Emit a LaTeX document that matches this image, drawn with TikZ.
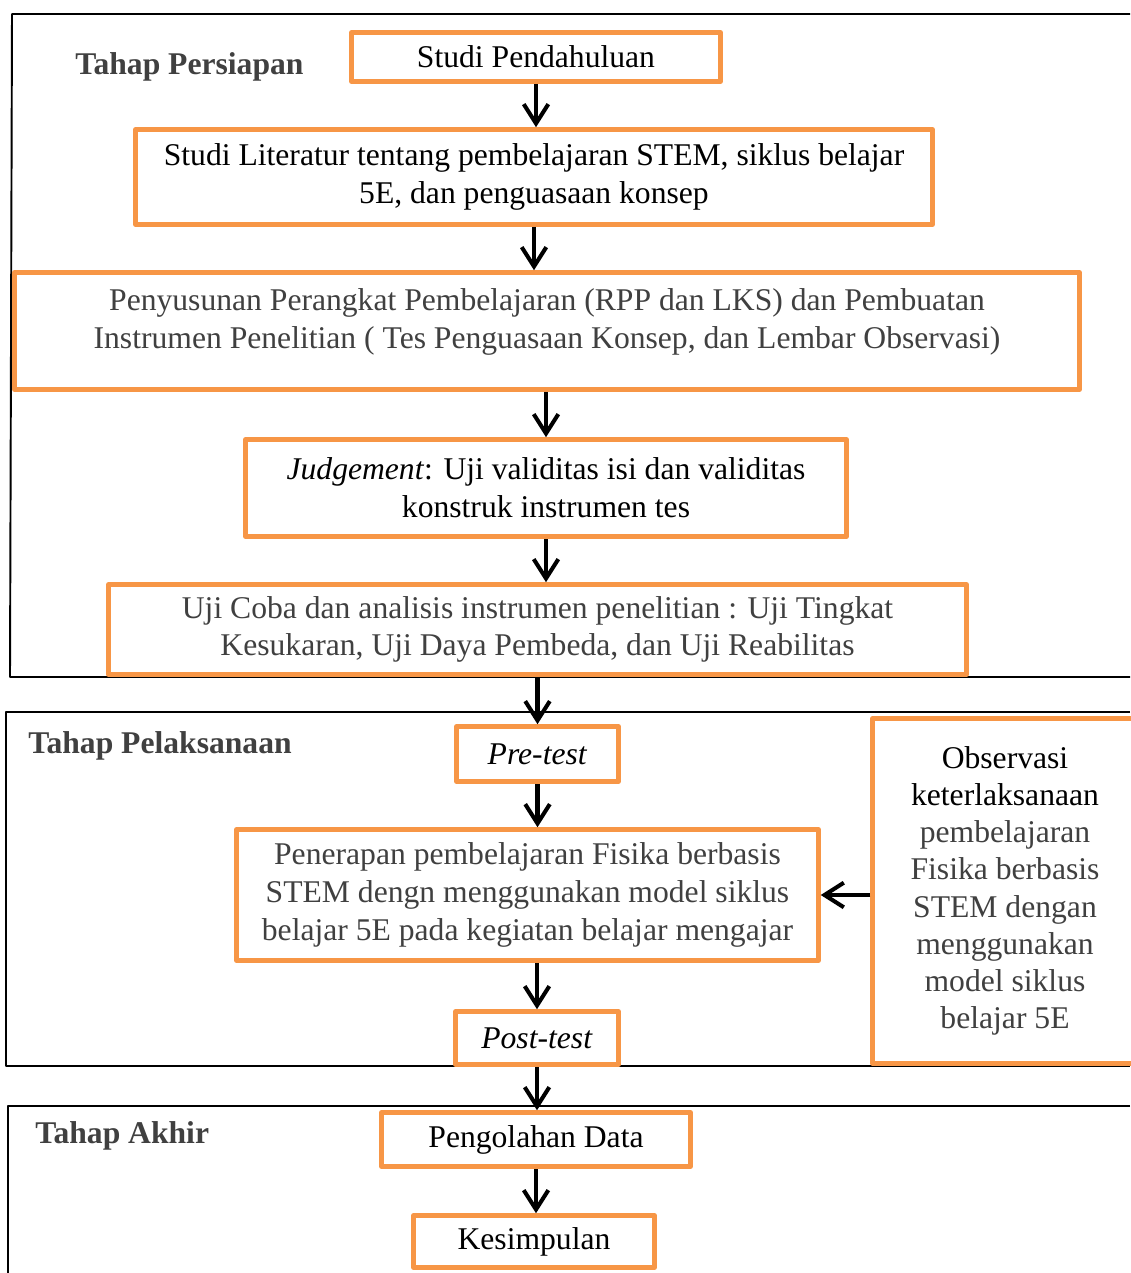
\documentclass[tikz,border=0pt]{standalone}
\usepackage{fontspec}
\setmainfont{Liberation Serif}
\usetikzlibrary{arrows.meta}
\definecolor{oren}{RGB}{247,150,70}
\definecolor{abu}{RGB}{64,64,64}
\begin{document}
\begin{tikzpicture}[x=0.02cm,y=-0.02cm,line join=round,
			every node/.style={font=\fontsize{18}{21.5}\selectfont,align=center,inner sep=0pt},
			box/.style={draw=oren,line width=2.6pt,fill=white},
			frame/.style={draw=black,line width=1.1pt},
			tahap/.style={font=\fontsize{18}{21.5}\selectfont\bfseries,text=abu,anchor=west},
			arr/.style={line width=2.3pt,-{Straight Barb[length=11pt,width=14pt]}}]
			\useasboundingbox (0,0) rectangle (1130,1273);
			%%Bingkai tahap
			\draw[frame] (1130,14) -- (12,14) -- (10,677) -- (1130,677);
			\draw[frame] (1130,712) -- (6,712) -- (6,1066) -- (1130,1066);
			\draw[frame] (1130,1106) -- (8,1106) -- (8,1273);
			%%Label tahap
			\node[tahap] (tp) at (75,67) {Tahap Persiapan};
			\node[tahap] (tl) at (28,746) {Tahap Pelaksanaan};
			\node[tahap] (ta) at (35,1136) {Tahap Akhir};
			%%Tahap persiapan
			\node[box,minimum width=7.38cm,minimum height=0.98cm] (s1) at (536,57) {Studi Pendahuluan};
			\node[box,minimum width=15.94cm,minimum height=1.9cm] (s2) at (534,177) {Studi Literatur tentang pembelajaran STEM, siklus belajar\\5E, dan penguasaan konsep};
			\node[box,minimum width=21.3cm,minimum height=2.34cm,text=abu] (s3) at (547,331) {Penyusunan Perangkat Pembelajaran (RPP dan LKS) dan Pembuatan\\Instrumen Penelitian ( Tes Penguasaan Konsep, dan Lembar Observasi)\\[-7pt]\mbox{}};
			\node[box,minimum width=12.02cm,minimum height=1.94cm] (s4) at (546,488) {\textit{Judgement}: Uji validitas isi dan validitas\\konstruk instrumen tes};
			\node[box,minimum width=17.16cm,minimum height=1.8cm,text=abu] (s5) at (537.5,629.5) {Uji Coba dan analisis instrumen penelitian : Uji Tingkat\\Kesukaran, Uji Daya Pembeda, dan Uji Reabilitas};
			%%Tahap pelaksanaan
			\node[box,minimum width=3.24cm,minimum height=1.1cm] (s6) at (537.5,754) {\textit{Pre-test}};
			\node[box,minimum width=11.64cm,minimum height=2.62cm,text=abu] (s7) at (527.5,895) {Penerapan pembelajaran Fisika berbasis\\STEM dengn menggunakan model siklus\\belajar 5E pada kegiatan belajar mengajar};
			\node[box,minimum width=3.26cm,minimum height=1.06cm] (s8) at (537,1038) {\textit{Post-test}};
			\node[box,minimum width=5.3cm,minimum height=6.9cm,font=\fontsize{18}{21.2}\selectfont] (obs) at (1005,891) {Observasi\\keterlaksanaan\\\textcolor{abu}{pembelajaran}\\\textcolor{abu}{Fisika berbasis}\\\textcolor{abu}{STEM dengan}\\\textcolor{abu}{menggunakan}\\\textcolor{abu}{model siklus}\\\textcolor{abu}{belajar 5E}};
			%%Tahap akhir
			\node[box,minimum width=6.18cm,minimum height=1.08cm] (s9) at (536,1139.5) {Pengolahan Data};
			\node[box,minimum width=4.82cm,minimum height=1.04cm] (s10) at (534,1241.5) {Kesimpulan};
			%%Panah
			\draw[arr] (s1.south) -- (s1.south |- s2.north);
			\draw[arr] (s2.south) -- (s2.south |- s3.north);
			\draw[arr] (s4.north |- s3.south) -- (s4.north);
			\draw[arr] (s4.south) -- (s4.south |- s5.north);
			\draw[arr] (s6.north |- s5.south) -- (s6.north);
			\draw[arr] (s6.south) -- (s6.south |- s7.north);
			\draw[arr] (s8.north |- s7.south) -- (s8.north);
			\draw[arr] (s8.south) -- (s8.south |- s9.north);
			\draw[arr] (s9.south) -- (s9.south |- s10.north);
			\draw[arr] (obs.west |- s7.east) -- (s7.east);
		\end{tikzpicture}
\end{document}
